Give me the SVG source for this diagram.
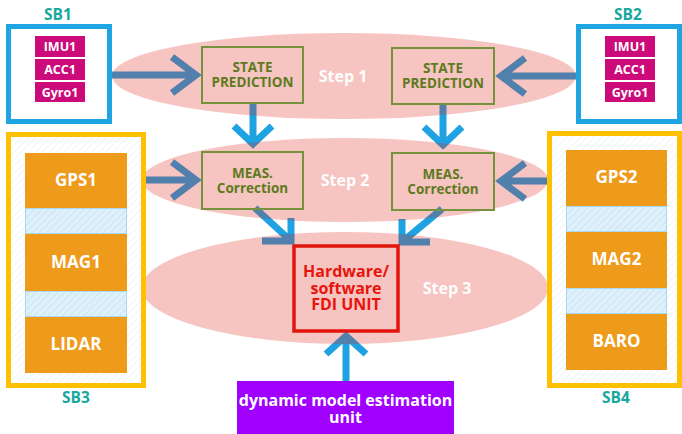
<svg xmlns="http://www.w3.org/2000/svg" width="682" height="434" viewBox="0 0 682 434">
<style>
text{font-family:"Open Sans","Noto Sans","DejaVu Sans",sans-serif;font-weight:bold;text-anchor:middle}
.arr{fill:none;stroke:#1ea2e2;stroke-width:7;stroke-linejoin:miter;stroke-miterlimit:10;stroke-linecap:butt}
.ell{fill:#de251a;fill-opacity:0.27}
.step{fill:#ffffff;font-size:16px}
.olive{fill:none;stroke:#76923c;stroke-width:2}
.otxt{fill:#5f7a1d;font-size:13.5px}
.sbB{fill:#ffffff;stroke:#1fa5e2;stroke-width:5}
.sbY{fill:url(#faint);stroke:#ffc000;stroke-width:5}
.mag{fill:#cc0a7a}
.mtxt{fill:#ffffff;font-size:12.5px}
.org{fill:#ee9a1b}
.strip{fill:url(#hatch);stroke:#a9d9ef;stroke-width:1}
.wtxt{fill:#ffffff;font-size:17px}
.ptxt{fill:#ffffff;font-size:16px}
.ftxt{fill:#e8140c;font-size:16px}
.sbl{fill:#17a89e;font-size:15.5px}
</style>
<defs>
<pattern id="hatch" patternUnits="userSpaceOnUse" width="5" height="5" patternTransform="rotate(-45)">
<rect width="5" height="5" fill="#def0fa"/>
<line x1="0" y1="2.5" x2="5" y2="2.5" stroke="#c9e5f5" stroke-width="1"/>
</pattern>
<pattern id="faint" patternUnits="userSpaceOnUse" width="5" height="5" patternTransform="rotate(-45)">
<rect width="5" height="5" fill="#ffffff"/>
<line x1="0" y1="2.5" x2="5" y2="2.5" stroke="#eef5f9" stroke-width="1"/>
</pattern>
</defs>
<rect width="682" height="434" fill="#ffffff"/>

<g id="connectors">
<path class="arr" d="M110 75 H196 M172 57 L196 75 L172 93"/>
<path class="arr" d="M577 76 H501 M525 58 L501 76 L525 94"/>
<path class="arr" d="M145 180 H196 M172 162 L196 180 L172 198"/>
<path class="arr" d="M548 181 H501 M525 163 L501 181 L525 199"/>
<path class="arr" d="M253 103 V144 M234 126 L253 144 L272 126"/>
<path class="arr" d="M443 104 V145 M424 127 L443 145 L462 127"/>
<path class="arr" d="M255 208 L291 241 M291 218 V241 H262"/>
<path class="arr" d="M442 209 L402 242 M402 219 V242 H430"/>
<path class="arr" d="M346 381 V336 M326 354 L346 336 L366 354"/>
</g>

<g id="step1">
<ellipse class="ell" cx="344" cy="76" rx="232" ry="43"/>
<text class="step" x="343" y="82">Step 1</text>
</g>
<g id="step2">
<ellipse class="ell" cx="345" cy="180" rx="203" ry="42"/>
<text class="step" x="345" y="186">Step 2</text>
</g>
<g id="step3">
<ellipse class="ell" cx="345" cy="288" rx="203" ry="56"/>
<text class="step" x="447" y="294">Step 3</text>
</g>

<g id="state1">
<rect class="olive" x="202" y="47" width="101" height="56"/>
<text class="otxt" x="252.5" y="72">STATE</text>
<text class="otxt" x="252.5" y="87">PREDICTION</text>
</g>
<g id="state2">
<rect class="olive" x="392" y="48" width="102" height="56"/>
<text class="otxt" x="443" y="73">STATE</text>
<text class="otxt" x="443" y="88">PREDICTION</text>
</g>
<g id="meas1">
<rect class="olive" x="202" y="152" width="101" height="57"/>
<text class="otxt" x="252.5" y="178">MEAS.</text>
<text class="otxt" x="252.5" y="193">Correction</text>
</g>
<g id="meas2">
<rect class="olive" x="392" y="153" width="102" height="57"/>
<text class="otxt" x="443" y="179">MEAS.</text>
<text class="otxt" x="443" y="194">Correction</text>
</g>

<g id="fdi">
<rect x="294" y="246" width="104" height="85" fill="none" stroke="#e2150c" stroke-width="3.5"/>
<text class="ftxt" x="346" y="277">Hardware/</text>
<text class="ftxt" x="346" y="294">software</text>
<text class="ftxt" x="346" y="310">FDI UNIT</text>
</g>

<g id="dynamic">
<rect x="237" y="381" width="217" height="53" fill="#a000ff"/>
<text class="ptxt" x="345.5" y="406">dynamic model estimation</text>
<text class="ptxt" x="345.5" y="423">unit</text>
</g>

<g id="sb1">
<text class="sbl" x="58" y="19.5">SB1</text>
<rect class="sbB" x="8.5" y="26.5" width="101" height="95"/>
<rect class="mag" x="35" y="36" width="50" height="21"/>
<rect class="mag" x="35" y="59" width="50" height="21"/>
<rect class="mag" x="35" y="82" width="50" height="20"/>
<text class="mtxt" x="60" y="51">IMU1</text>
<text class="mtxt" x="60" y="74">ACC1</text>
<text class="mtxt" x="60" y="96.5">Gyro1</text>
</g>

<g id="sb2">
<text class="sbl" x="628" y="19.5">SB2</text>
<rect class="sbB" x="578.5" y="26.5" width="101" height="95"/>
<rect class="mag" x="605" y="36" width="50" height="21"/>
<rect class="mag" x="605" y="59" width="50" height="21"/>
<rect class="mag" x="605" y="82" width="50" height="20"/>
<text class="mtxt" x="630" y="51">IMU1</text>
<text class="mtxt" x="630" y="74">ACC1</text>
<text class="mtxt" x="630" y="96.5">Gyro1</text>
</g>

<g id="sb3">
<rect class="sbY" x="8.5" y="134.5" width="135" height="251"/>
<rect class="org" x="25" y="153" width="102" height="55"/>
<rect class="strip" x="25.5" y="208.5" width="101" height="25"/>
<rect class="org" x="25" y="234" width="102" height="57"/>
<rect class="strip" x="25.5" y="291.5" width="101" height="25"/>
<rect class="org" x="25" y="317" width="102" height="56"/>
<text class="wtxt" x="76" y="186">GPS1</text>
<text class="wtxt" x="76" y="268">MAG1</text>
<text class="wtxt" x="76" y="350">LIDAR</text>
<text class="sbl" x="76" y="402.5">SB3</text>
</g>

<g id="sb4">
<rect class="sbY" x="549.5" y="133.5" width="130" height="252"/>
<rect class="org" x="566" y="150" width="101" height="56"/>
<rect class="strip" x="566.5" y="206.5" width="100" height="25"/>
<rect class="org" x="566" y="232" width="101" height="56"/>
<rect class="strip" x="566.5" y="288.5" width="100" height="25"/>
<rect class="org" x="566" y="314" width="101" height="56"/>
<text class="wtxt" x="616.5" y="183">GPS2</text>
<text class="wtxt" x="616.5" y="265">MAG2</text>
<text class="wtxt" x="616.5" y="347">BARO</text>
<text class="sbl" x="616" y="402.5">SB4</text>
</g>
</svg>
